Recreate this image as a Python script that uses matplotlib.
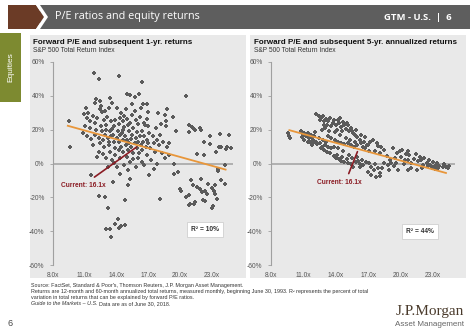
import numpy as np
import matplotlib
matplotlib.use("Agg")
import matplotlib.pyplot as plt
from matplotlib.patches import Rectangle, Polygon

plt.rcParams['font.family'] = ['Liberation Sans', 'DejaVu Sans']

# ---- data ----
pe_1yr = [11.9, 12.3, 14.2, 16.4, 20.6,
          13.4, 12.1, 12.4, 12.0, 12.5, 12.4, 12.6, 11.1, 11.3, 10.9,
          15.0, 15.3, 15.7, 15.5, 16.1, 16.5, 16.9, 16.3, 15.7, 14.9, 14.4, 17.0, 17.9, 18.8, 18.6, 19.3, 13.6, 14.0,
          9.5, 11.2, 11.8, 12.2, 12.8, 13.1, 13.5, 13.9, 14.3, 14.6, 15.0, 15.3, 15.8, 16.2, 16.6, 18.2, 18.7, 18.7,
          17.0, 16.7, 12.0, 12.5, 13.0, 13.8, 14.2, 14.7, 15.1, 15.6, 11.5, 11.0,
          20.8, 21.1, 21.4, 21.9, 22.0, 20.8, 21.2,
          9.6, 10.8, 11.2, 11.6, 12.0, 12.3, 12.6, 12.9, 13.2, 13.4, 13.7, 14.0, 14.2, 14.5, 14.8, 15.0, 15.2, 15.5,
          15.8, 16.0, 16.3, 16.6, 16.9, 17.1, 17.4, 17.5, 17.8, 18.0, 18.4, 18.8, 19.6, 19.0, 12.4, 12.8, 13.3, 13.8,
          14.4, 14.9, 15.4, 15.9, 16.4, 16.8, 17.2, 11.8, 12.3,
          22.8, 22.3, 22.8, 23.8, 23.7, 23.9, 23.4, 24.3, 24.6, 24.4, 24.8,
          12.2, 12.7, 13.0, 13.4, 13.6, 13.9, 14.3, 14.6, 15.0, 15.3, 15.6, 16.0, 16.4, 16.9, 17.3, 17.8, 18.3, 19.4,
          19.0, 21.6, 22.3, 24.2, 23.6, 14.7, 15.8, 13.2,
          11.6, 13.7, 15.1, 15.1, 15.3, 17.1, 18.1, 19.4, 14.3, 14.8, 12.3, 12.9, 13.2, 13.9, 13.0, 13.4, 14.1, 14.2,
          13.5, 14.8, 14.4,
          20.0, 20.1, 20.8, 21.2, 21.6, 21.9, 22.05, 22.4, 22.5, 22.6, 23.0, 23.2, 23.3, 23.3, 20.6, 20.9, 21.3, 21.4,
          20.8, 22.2, 22.4, 23.0, 23.1, 23.5, 23.6, 23.9, 19.8, 21.0, 22.0, 24.2,
          13.0, 13.6, 14.1, 14.6, 15.2, 15.9, 16.4, 13.3, 13.9, 14.2, 14.6, 15.1, 15.4, 15.7, 16.2, 16.5, 17.0,
          12.7, 12.1, 11.5, 12.9, 13.3, 14.7, 15.5, 16.0, 16.9, 17.7, 18.1, 17.6, 14.0, 15.6, 16.6, 13.8, 17.5,
          18.6, 14.3, 13.5, 16.1]
ret_1yr = [53.5, 50, 52, 48, 40,
           39, 38, 37, 35.5, 34, 32, 30.5, 33, 30, 29,
           41, 40.5, 39.5, 35, 41, 35, 35, 33, 31, 32, 30, 30.5, 30, 32.5, 28.7, 27.7, 36, 33,
           25, 27, 28, 27, 26, 27.5, 25, 26, 27, 25, 26.5, 24, 26, 27.5, 24, 23.5, 25, 22,
           22, 23, 24, 22, 23, 22, 23.5, 21.5, 22.5, 21, 21, 22,
           23, 21.5, 20, 21, 20, 18.7, 21,
           9.5, 18, 16, 14.5, 17, 15, 19, 17, 15, 19, 17, 15, 13, 18, 16, 14, 12, 17,
           15, 13, 11, 16, 14, 18, 16, 12, 14, 11, 13, 10, 19.5, 12, 12, 10, 11, 12.5,
           10, 11, 10, 9, 8, 10, 9, 11, 7,
           16, 13, 11.5, 17.7, 10, 9.5, 7, 8.7, 17, 10, 9,
           4, 5.5, 3, 7, 2, 5, 3, 7, 4, 1, 6, 3, 1, 5, 2, 0, 6, 0,
           5, 5.5, 5, -1, -3, -1, -2, -2,
           -7, -11, -4, -12.7, -9, -7, -21, -6, -6, -21.5, -19, -19.7, -26.5, -36, -38.6, -39, -33, -38,
           -43.5, -36.2, -37,
           -15, -16.5, -18.5, -13, -14, -15, -17, -16.5, -18, -12, -14.6, -16.5, -18, -13, -19.8, -23.7, -24.2, -22.7,
           -24.6, -21.7, -22.3, -26.5, -25, -20.8, -4.4, -9.8, -5, -10, -9, -12,
           20, 20.5, 19, 20, 19.5, 18.5, 19, 13, 9, 8, 14, 8, 14.5, 12, 16.5, 13, 12,
           14, 20, 25, 31, 33, 28, 28.5, 23.5, 26.5, 21, 17, 7, -2, 2.5, -1, 0.5, -3,
           3, 17, 16, 6]

pe_5yr = [9.6, 9.7, 9.8, 10.8, 11.0, 11.2, 11.4, 11.5, 11.7, 11.9, 12.0, 11.1, 11.4, 11.8, 12.2, 12.5, 12.7,
          12.4, 12.8, 13.1, 13.3, 13.6, 13.9, 14.2, 14.5, 14.8, 15.1, 15.4, 15.7, 16.0, 16.3, 16.5, 16.7, 16.9,
          17.1, 17.6, 17.9, 18.1, 18.5, 19.3, 20.1, 19.9, 20.7, 20.8, 20.5, 21.4, 21.8, 22.2, 22.6, 23.0, 23.4,
          12.2, 12.4, 12.6, 12.8, 12.5, 12.9, 13.1, 13.3, 13.5, 13.7, 13.2, 13.6, 14.0, 14.2, 14.3, 14.5, 14.8,
          14.9, 15.0, 15.2, 15.4, 15.6, 15.8, 16.0, 16.2, 14.6, 14.1, 13.9, 13.4, 13.0, 12.7, 15.8, 16.6, 17.2, 17.0,
          11.1, 11.4, 11.7, 12.0, 12.3, 12.6, 12.9, 13.2, 13.5, 13.8, 14.0, 14.3, 14.5, 14.8, 15.1, 15.4, 15.6,
          15.9, 16.2, 14.1, 14.6, 15.0, 13.6, 13.3,
          16.06, 16.2, 16.5, 17.1, 17.3, 17.0, 17.5, 17.9, 18.1, 18.5, 18.8, 19.1, 19.8, 18.1, 17.3, 18.7, 19.0,
          19.45, 19.6, 20.7, 21.2, 21.6, 22.1, 22.4, 22.7, 23.0, 23.3, 23.6, 23.9, 24.2, 24.4, 20.7, 21.0, 21.5,
          20.3, 21.9, 22.9, 23.5, 24.0,
          12.9, 13.8, 14.4, 14.7, 15.1, 15.5, 15.9, 16.3, 16.7, 17.4, 17.8, 18.2, 14.4, 14.9, 15.3, 13.0, 13.8,
          14.2, 14.7, 15.2, 15.5, 16.0, 16.4, 16.8, 17.6, 18.3, 18.9, 19.4, 17.7, 12.1, 10.9, 11.6, 20.0, 20.4,
          19.7, 21.0, 22.5, 22.0, 23.2, 24.5]
ret_5yr = [18, 16, 15, 19, 17.5, 16, 18, 15, 17, 14, 16, 14, 12.5, 11, 13, 12, 10,
           15, 14, 13, 16, 15, 14, 13, 12, 11.5, 12, 11, 10, 11, 12, 10, 9.2, 11,
           7.2, 7.2, 10.5, 6.2, 8, 9.2, 8.2, 7.2, 7.2, 5.2, 5.6, 5.8, 4, 3, 2, 1, 0.5,
           29, 28, 27, 28, 25.5, 25, 26.5, 25, 27, 24, 23, 22, 23, 26, 24, 21.5, 23,
           20.5, 24, 19, 21, 18, 17, 15.5, 14, 19, 20, 18.5, 19.5, 21, 20, 13, 13, 12.5, 11,
           18, 17, 15.5, 13, 11.5, 9, 8, 7, 6, 4.5, 3.5, 2.5, 1.5, 1, 0.5, 0, -1.8,
           1, -0.5, 5, 4, 2.5, 9, 10,
           1.2, -1.8, -0.8, 0.2, -1.8, -4.8, -3.8, -2.8, -5.8, 0.2, -0.8, 0.2, -3.8, -7.2, -6.8, 4.2, 2.2,
           3.2, 0.2, 2.2, 2.8, 1.2, -0.8, 0.2, -0.8, -1.8, -0.8, -1.2, -1.8, -2.2, -2.8, -3.8, -2.8, -3.8,
           0, 2, -2.5, -2.8, -0.5,
           22.5, 25.5, 27, 24.5, 22.5, 19.5, 20, 17, 15.5, 14, 12, 9.5, 17, 15, 14, 11, 10,
           9, 7.5, 5, 3, 4, 2, 1, 0, -2.5, -4, -1.5, -8, 18.5, 15.5, 13, 4, 2,
           6, 0.5, -1.5, -2.8, -3, -1.5]

# regression lines (end points)
fit_1yr_x, fit_1yr_y = [9.4, 24.3], [22.3, -3.6]
fit_5yr_x, fit_5yr_y = [9.7, 24.2], [19.7, -5.6]
current_pe = 16.1
r2_1yr, r2_5yr = 10, 44

x_ticks = [8, 11, 14, 17, 20, 23]
y_ticks = [-60, -40, -20, 0, 20, 40, 60]

panel_titles = ["Forward P/E and subsequent 1-yr. returns",
                "Forward P/E and subsequent 5-yr. annualized returns"]
footnotes = ["Source: FactSet, Standard & Poor's, Thomson Reuters, J.P. Morgan Asset Management.",
             "Returns are 12-month and 60-month annualized total returns, measured monthly, beginning June 30, 1993. "
             "R\u00b2 represents the percent of total",
             "variation in total returns that can be explained by forward P/E ratios."]

W, H = 474, 334
fig = plt.figure(figsize=(W / 100, H / 100), dpi=100)
fig.patch.set_facecolor("white")


def fr(x0, y0, x1, y1):
    # pixel box -> figure fraction rect
    return [x0 / W, 1 - y1 / H, (x1 - x0) / W, (y1 - y0) / H]


def add_patch(p):
    p.set_zorder(-5)
    fig.patches.append(p)


# header bar
add_patch(Rectangle((40 / W, 1 - 29 / H), 430 / W, 24 / H, transform=fig.transFigure,
                    facecolor="#5e5e5e", edgecolor="none"))
add_patch(Polygon([(8 / W, 1 - 5 / H), (36 / W, 1 - 5 / H), (44 / W, 1 - 17 / H),
                   (36 / W, 1 - 29 / H), (8 / W, 1 - 29 / H)], closed=True,
                  transform=fig.transFigure, facecolor="#6b3b26", edgecolor="none"))
add_patch(Polygon([(36 / W, 1 - 5 / H), (40 / W, 1 - 5 / H), (48 / W, 1 - 17 / H),
                   (40 / W, 1 - 29 / H), (36 / W, 1 - 29 / H), (44 / W, 1 - 17 / H)], closed=True,
                  transform=fig.transFigure, facecolor="white", edgecolor="none"))
fig.text(55 / W, 1 - 17 / H, "P/E ratios and equity returns", color="white", fontsize=7.8,
         family=["Open Sans", "DejaVu Sans"], va="center", ha="left")
fig.text(452 / W, 1 - 17 / H, "GTM - U.S.  |  6", color="white", fontsize=6.8,
         family=["Open Sans", "DejaVu Sans"], va="center", ha="right", fontweight="bold")

# side tab
add_patch(Rectangle((0, 1 - 102 / H), 21 / W, 69 / H, transform=fig.transFigure,
                    facecolor="#7d8a30", edgecolor="none"))
fig.text(10.5 / W, 1 - 67 / H, "Equities", color="white", fontsize=6, rotation=90,
         ha="center", va="center")

# panels
for x0, x1 in [(30, 246), (250, 466)]:
    add_patch(Rectangle((x0 / W, 1 - 278 / H), (x1 - x0) / W, 243 / H,
                        transform=fig.transFigure, facecolor="#e9e9e9", edgecolor="none"))

panels = [
    (fr(53, 62, 233, 265), pe_1yr, ret_1yr, fit_1yr_x, fit_1yr_y, r2_1yr, 33, (10.9, -13), (22.4, -39)),
    (fr(271, 62, 454.6, 265), pe_5yr, ret_5yr, fit_5yr_x, fit_5yr_y, r2_5yr, 254, (14.3, -11.5), (21.8, -40)),
]

for i, (rect, xs, ys, fx_, fy_, r2, tx, cur_txt, r2_pos) in enumerate(panels):
    ax = fig.add_axes(rect)
    ax.set_facecolor("none")
    ax.set_xlim(8, 25)
    ax.set_ylim(-60, 60)
    for s in ["top", "right", "bottom"]:
        ax.spines[s].set_visible(False)
    ax.spines["left"].set_color("#a0a0a0")
    ax.spines["left"].set_linewidth(0.8)
    ax.axhline(0, color="#a6a6a6", lw=1.2, zorder=1)
    ax.set_xticks(x_ticks)
    ax.set_xticklabels([f"{t:.1f}x" for t in x_ticks])
    ax.set_yticks(y_ticks)
    ax.set_yticklabels([f"{t}%" for t in y_ticks])
    ax.tick_params(axis="x", length=0, labelsize=4.8, colors="#555555", pad=5)
    ax.tick_params(axis="y", length=2, width=0.6, color="#a0a0a0", labelsize=4.8, labelcolor="#555555", pad=4)

    ax.scatter(xs, ys, marker="P", s=12, color="#5b5b5b", linewidths=0, zorder=2)
    ax.plot(fx_, fy_, color="#e8963a", lw=1.3, zorder=3)

    tip_y = np.interp(current_pe, fx_, fy_)
    ax.annotate("", xy=(current_pe, tip_y), xytext=(cur_txt[0] + 0.8, cur_txt[1] + 4),
                arrowprops=dict(arrowstyle="-", color="#8b1c24", lw=1.2), zorder=4)
    ax.text(cur_txt[0], cur_txt[1], f"Current: {current_pe}x", color="#8b1c24", fontsize=4.8,
            ha="center", va="center", fontweight="bold", zorder=4)
    ax.text(r2_pos[0], r2_pos[1], f"R\u00b2 = {r2}%", fontsize=4.8, fontweight="bold", color="#333333",
            ha="center", va="center",
            bbox=dict(boxstyle="square,pad=0.6", facecolor="white", edgecolor="#d0d0d0", lw=0.6))

    fig.text(tx / W, 1 - 43 / H, panel_titles[i], fontsize=5.8, fontweight="bold", color="#111111",
             ha="left", va="center")
    fig.text(tx / W, 1 - 51 / H, "S&P 500 Total Return Index", fontsize=4.8, color="#333333",
             ha="left", va="center")

# footnotes
for k, line in enumerate(footnotes):
    fig.text(31 / W, 1 - (285 + k * 6.2) / H, line, fontsize=3.9, color="#333333", ha="left", va="center")
fig.text(31 / W, 1 - (285 + 3 * 6.2) / H, "Guide to the Markets \u2013 U.S.", fontsize=3.9, color="#333333",
         ha="left", va="center", style="italic")
fig.text(99 / W, 1 - (285 + 3 * 6.2) / H, "Data are as of June 30, 2018.", fontsize=3.9, color="#333333",
         ha="left", va="center")

# footer
fig.text(10 / W, 1 - 323 / H, "6", fontsize=6.5, color="#444444", ha="center", va="center")
fig.text(464 / W, 1 - 311 / H, "J.P.Morgan", fontsize=11, color="#4a3b2c", ha="right", va="center",
         family=["Liberation Serif", "DejaVu Serif"])
fig.text(464 / W, 1 - 324 / H, "Asset Management", fontsize=5.8, color="#666666", ha="right", va="center")

fig.savefig("out.png", dpi=100)
